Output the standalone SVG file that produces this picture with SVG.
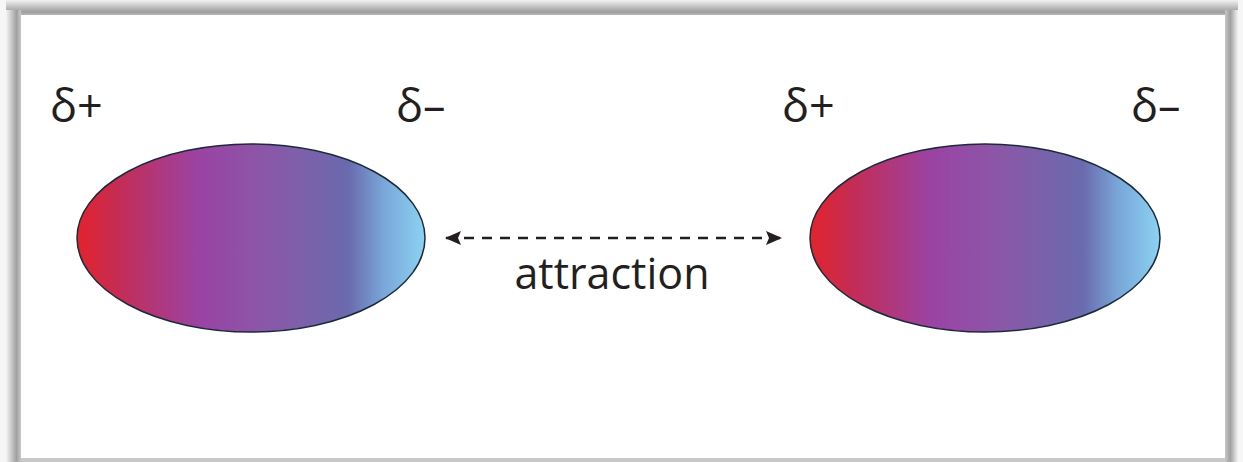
<svg xmlns="http://www.w3.org/2000/svg" width="1243" height="462" viewBox="0 0 1243 462">
<style>
.lbl{font-family:"Open Sans","Liberation Sans",sans-serif;font-size:45px;fill:#231f20}
.att{font-family:"Open Sans","Liberation Sans",sans-serif;font-size:43px;fill:#231f20}
.mol{stroke:#1e2a3a;stroke-width:1.5;fill:url(#grad)}
</style>
<defs>
<linearGradient id="grad" x1="0" y1="0" x2="1" y2="0">
<stop offset="0" stop-color="#e3232b"/>
<stop offset="0.12" stop-color="#c42c55"/>
<stop offset="0.35" stop-color="#9a43a4"/>
<stop offset="0.55" stop-color="#8a58a8"/>
<stop offset="0.78" stop-color="#6a6aae"/>
<stop offset="0.88" stop-color="#79a6d8"/>
<stop offset="1" stop-color="#8cd2f3"/>
</linearGradient>
<linearGradient id="shT" x1="0" y1="0" x2="0" y2="1">
<stop offset="0" stop-color="#f2f2f2"/>
<stop offset="0.7" stop-color="#9e9e9e"/>
<stop offset="1" stop-color="#c8c8c8"/>
</linearGradient>
<linearGradient id="shL" x1="0" y1="0" x2="1" y2="0">
<stop offset="0" stop-color="#f4f4f4"/>
<stop offset="0.7" stop-color="#a0a0a0"/>
<stop offset="1" stop-color="#c8c8c8"/>
</linearGradient>
<linearGradient id="shR" x1="0" y1="0" x2="1" y2="0">
<stop offset="0" stop-color="#c8c8c8"/>
<stop offset="0.4" stop-color="#a0a0a0"/>
<stop offset="1" stop-color="#f4f4f4"/>
</linearGradient>
<marker id="ah" viewBox="0 0 16 14" refX="15" refY="7" markerWidth="16" markerHeight="14" orient="auto-start-reverse" markerUnits="userSpaceOnUse">
<path d="M0,0 L16,7 L0,14 L3,7 z" fill="#231f20"/>
</marker>
</defs>
<rect width="1243" height="462" fill="#f6f6f6"/>
<g id="frame">
<rect x="6" y="0" width="1232" height="17" fill="url(#shT)"/>
<rect x="6" y="10" width="15" height="452" fill="url(#shL)"/>
<rect x="1225" y="10" width="13" height="452" fill="url(#shR)"/>
<rect x="21" y="15" width="1204" height="443" fill="#ffffff"/>
<rect x="21" y="458" width="1204" height="4" fill="#c8c8c8"/>
</g>
<g id="molecule1">
<ellipse class="mol" cx="251" cy="238" rx="174" ry="94"/>
<text class="lbl" x="50" y="122">δ+</text>
<text class="lbl" x="396" y="122">δ–</text>
</g>
<g id="molecule2">
<ellipse class="mol" cx="985" cy="238" rx="175" ry="94"/>
<text class="lbl" x="782" y="122">δ+</text>
<text class="lbl" x="1131" y="122">δ–</text>
</g>
<g id="connectors">
<line x1="446" y1="238" x2="781" y2="238" stroke="#231f20" stroke-width="2.5" stroke-dasharray="10,8" marker-start="url(#ah)" marker-end="url(#ah)"/>
<text class="att" x="612" y="289" text-anchor="middle">attraction</text>
</g>
</svg>
